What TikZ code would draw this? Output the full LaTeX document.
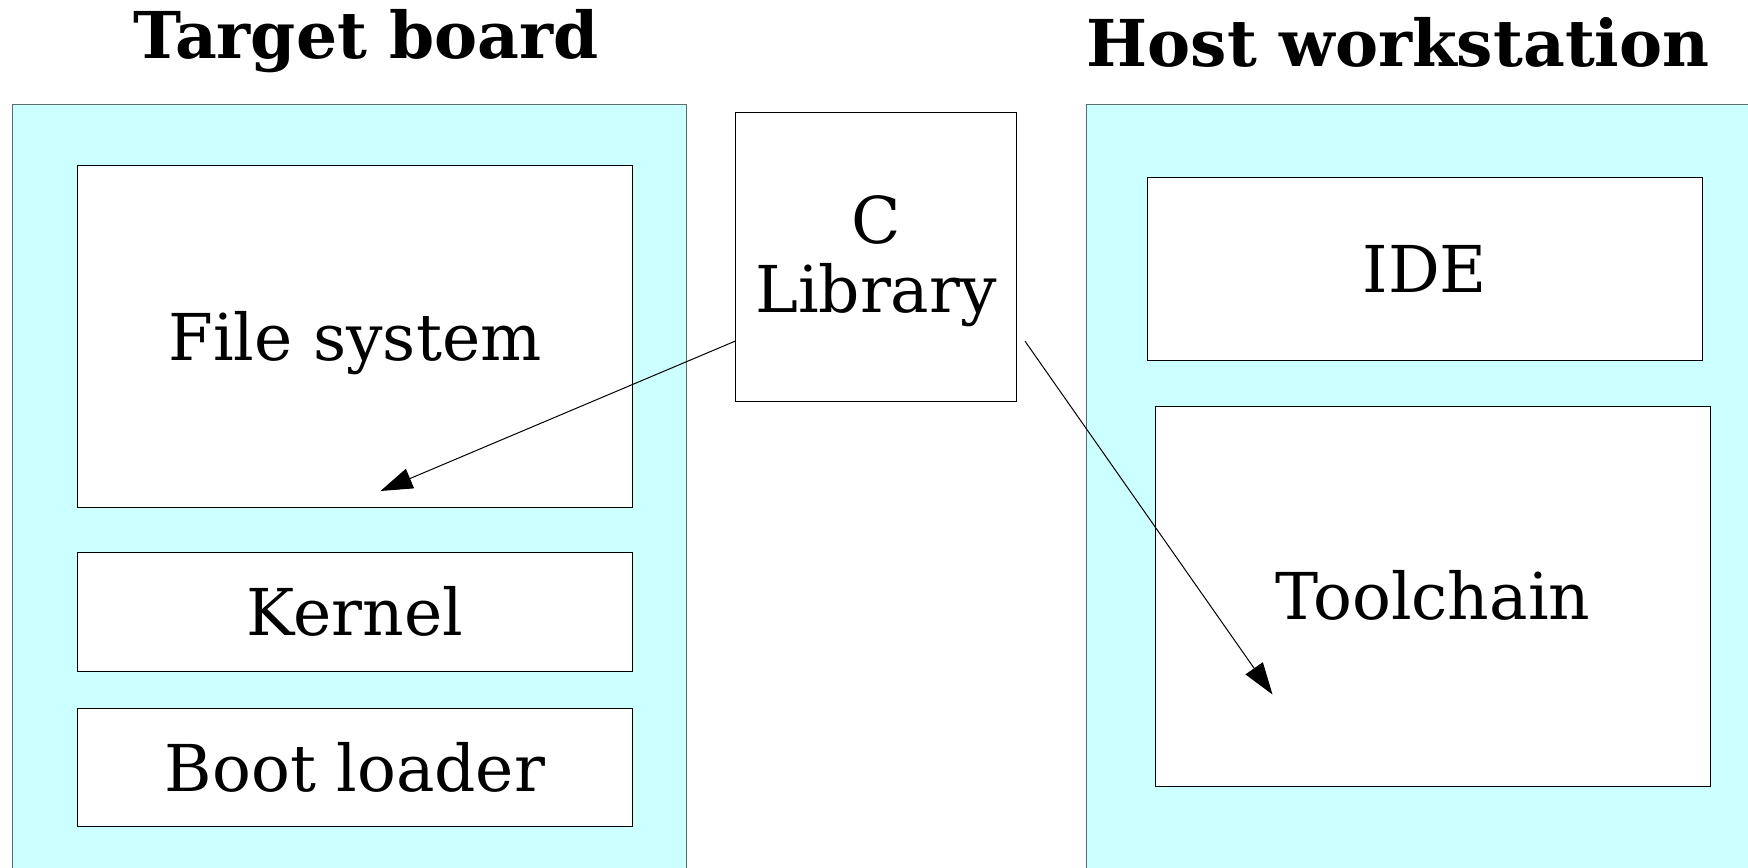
\documentclass[tikz,border=0pt]{standalone}
\usepackage{fontspec}
\setmainfont{DejaVu Serif}
\usetikzlibrary{arrows.meta,calc}
\definecolor{panelfill}{HTML}{CCFFFF}
\definecolor{panelline}{HTML}{5A6E6E}
\begin{document}
\begin{tikzpicture}[x=0.5pt,y=-0.5pt,
  panel/.style={draw=panelline,fill=panelfill,line width=0.5pt,inner sep=0pt,anchor=north west},
  box/.style={draw=black,fill=white,line width=0.5pt,inner sep=0pt,anchor=north west,align=center,
    text height=23.5pt,text depth=0pt,font=\fontsize{32.3}{34.5}\selectfont},
  title/.style={anchor=base,inner sep=0pt,font=\bfseries\fontsize{32.3}{37.5}\selectfont},
  arrow/.style={line width=0.5pt,-{Triangle[length=16pt,width=10.5pt]}}]
\clip (0,0) rectangle (1748,867);
\fill[white] (0,0) rectangle (1748,867);
% panels
\node[panel,minimum width=337pt,minimum height=400pt] (target) at (12,104) {};
\node[panel,minimum width=400pt,minimum height=400pt] (host) at (1086,104) {};
% titles
\node[title] (ttarget) at (366,58) {Target board};
\node[title] (thost) at (1398,66) {Host workstation};
% boxes
\node[box,minimum width=277.5pt,minimum height=171pt] (fs) at (77,165) {File system};
\node[box,minimum width=277.5pt,minimum height=59.5pt] (kernel) at (77,552) {Kernel};
\node[box,minimum width=277.5pt,minimum height=59pt] (boot) at (77,708) {Boot loader};
\node[box,minimum width=140.5pt,minimum height=144.5pt,text height=56pt] (clib) at (735,111.5) {C\\Library};
\node[box,minimum width=277.75pt,minimum height=91.75pt] (ide) at (1146.5,176.5) {IDE};
\node[box,minimum width=277.25pt,minimum height=190pt] (tool) at (1155,405.5) {Toolchain};
% arrows
\coordinate (fsend) at (380.5,491);
\coordinate (toolend) at (1272.5,694.5);
\draw[arrow] ($(clib.north west)!0.792!(clib.south west)$) -- (fsend);
\draw[arrow] ($(clib.north east)!0.792!(clib.south east)+(8,0)$) -- (toolend);
\end{tikzpicture}
\end{document}
